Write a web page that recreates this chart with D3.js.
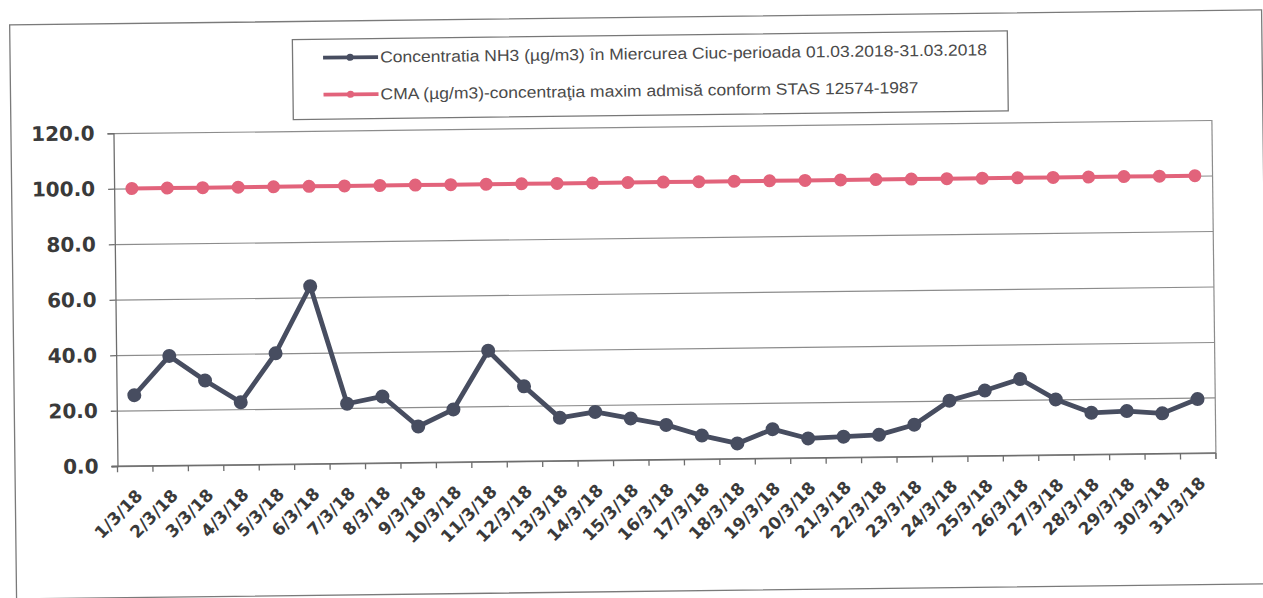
<!DOCTYPE html>
<html>
<head>
<meta charset="utf-8">
<script src="https://cdn.jsdelivr.net/npm/d3@7"></script>
<style>
  html, body { margin: 0; padding: 0; background: #ffffff; }
  svg { display: block; }
</style>
</head>
<body>
<svg id="chart" width="1263" height="598"></svg>
<script>
// ---- data ----
const dates = ["1/3/18","2/3/18","3/3/18","4/3/18","5/3/18","6/3/18","7/3/18","8/3/18","9/3/18","10/3/18",
  "11/3/18","12/3/18","13/3/18","14/3/18","15/3/18","16/3/18","17/3/18","18/3/18","19/3/18","20/3/18",
  "21/3/18","22/3/18","23/3/18","24/3/18","25/3/18","26/3/18","27/3/18","28/3/18","29/3/18","30/3/18","31/3/18"];
const nh3Values = [25.5, 39.5, 30.5, 22.5, 40, 64, 21.5, 24, 13, 19,
  40, 27, 15.5, 17.5, 15, 12.5, 8.5, 5.5, 10.5, 7,
  7.5, 8, 11.5, 20, 23.5, 27.5, 20, 15, 15.5, 14.5, 19.5];
const cmaValues = [100,100,100,100,100,100,100,100,100,100,
  100,100,100,100,100,100,100,100,100,100,
  100,100,100,100,100,100,100,100,100,100,100];
const yTicks = [0, 20, 40, 60, 80, 100, 120];
const legendLabels = [
  "Concentratia NH3 (\u00b5g/m3) \u00een Miercurea Ciuc-perioada 01.03.2018-31.03.2018",
  "CMA (\u00b5g/m3)-concentra\u0163ia maxim admis\u0103 conform STAS 12574-1987"
];

// ---- layout ----
const svg = d3.select("#chart");
const root = svg.append("g").attr("transform", "rotate(-0.69, 631, 299)");
const plot = { left: 115.5, right: 1214, top: 127, bottom: 460 };
const colNH3 = "#474d60", colCMA = "#e2637b";

// outer frame
root.append("rect").attr("x", 13).attr("y", 17.5).attr("width", 1252).attr("height", 574)
  .attr("fill", "none").attr("stroke", "#7a7a7a").attr("stroke-width", 1.3);

const x = d3.scaleBand().domain(dates).range([plot.left, plot.right]).padding(0);
const y = d3.scaleLinear().domain([0, 120]).range([plot.bottom, plot.top]);
const cx = d => x(d) + x.bandwidth() / 2;

// gridlines
root.append("g").attr("transform", `translate(${plot.left},0)`)
  .call(d3.axisLeft(y).tickValues(yTicks).tickSize(-(plot.right - plot.left)).tickFormat(""))
  .call(g => g.select(".domain").remove())
  .call(g => g.selectAll("line").attr("stroke", "#8c8c8c").attr("stroke-width", 1.2));

// right border
root.append("line").attr("x1", plot.right).attr("x2", plot.right)
  .attr("y1", plot.top).attr("y2", plot.bottom + 6)
  .attr("stroke", "#8c8c8c").attr("stroke-width", 1.2);

// y axis
root.append("g").attr("transform", `translate(${plot.left},0)`)
  .call(d3.axisLeft(y).tickValues(yTicks).tickSize(6).tickPadding(13).tickFormat(d3.format(".1f")))
  .call(g => g.select(".domain").attr("stroke", "#6d6d6d").attr("stroke-width", 1.3))
  .call(g => g.selectAll("line").attr("stroke", "#6d6d6d").attr("stroke-width", 1.3))
  .call(g => g.selectAll("text").attr("fill", "#3a3a3a")
    .style("font-family", "'DejaVu Sans', sans-serif").style("font-weight", "bold").style("font-size", "20px"));

// x axis
const xAxis = root.append("g").attr("transform", `translate(0,${plot.bottom})`);
xAxis.append("line").attr("x1", plot.left - 6).attr("x2", plot.right)
  .attr("stroke", "#6d6d6d").attr("stroke-width", 1.3);
xAxis.selectAll("line.tick").data(dates.concat(["end"])).join("line")
  .attr("class", "tick")
  .attr("x1", d => d === "end" ? plot.right : x(d))
  .attr("x2", d => d === "end" ? plot.right : x(d))
  .attr("y1", 0).attr("y2", 6)
  .attr("stroke", "#6d6d6d").attr("stroke-width", 1.3);
xAxis.selectAll("text").data(dates).join("text")
  .attr("transform", d => `translate(${cx(d) + 8},${31}) rotate(-45)`)
  .attr("text-anchor", "end")
  .attr("fill", "#3a3a3a")
  .style("font-family", "'DejaVu Sans', sans-serif").style("font-weight", "bold").style("font-size", "17px")
  .text(d => d);

// lines
const line = d3.line().x((d, i) => cx(dates[i])).y(d => y(d));
root.append("path").datum(cmaValues).attr("d", line)
  .attr("fill", "none").attr("stroke", colCMA).attr("stroke-width", 4);
root.append("g").selectAll("circle").data(cmaValues).join("circle")
  .attr("cx", (d, i) => cx(dates[i])).attr("cy", d => y(d)).attr("r", 6.5).attr("fill", colCMA);

root.append("path").datum(nh3Values).attr("d", line)
  .attr("fill", "none").attr("stroke", colNH3).attr("stroke-width", 4.8).attr("stroke-linejoin", "round");
root.append("g").selectAll("circle").data(nh3Values).join("circle")
  .attr("cx", (d, i) => cx(dates[i])).attr("cy", d => y(d)).attr("r", 7).attr("fill", colNH3);

// legend
const leg = root.append("g");
leg.append("rect").attr("x", 295.5).attr("y", 35.5).attr("width", 715).attr("height", 80)
  .attr("fill", "#fff").attr("stroke", "#777").attr("stroke-width", 1.3);
const legItems = [
  { label: legendLabels[0], color: colNH3, y: 54, w: 607 },
  { label: legendLabels[1], color: colCMA, y: 91, w: 538 }
];
legItems.forEach(it => {
  leg.append("line").attr("x1", 326).attr("x2", 381).attr("y1", it.y).attr("y2", it.y)
    .attr("stroke", it.color).attr("stroke-width", 3.8);
  leg.append("circle").attr("cx", 353).attr("cy", it.y).attr("r", 3.5).attr("fill", it.color);
  leg.append("text").attr("x", 383).attr("y", it.y + 5.5)
    .attr("textLength", it.w).attr("lengthAdjust", "spacingAndGlyphs")
    .attr("fill", "#4a4a4a")
    .style("font-family", "'Liberation Sans Narrow', 'Liberation Sans', Arial, sans-serif")
    .style("font-size", "16px")
    .text(it.label);
});
</script>
</body>
</html>
